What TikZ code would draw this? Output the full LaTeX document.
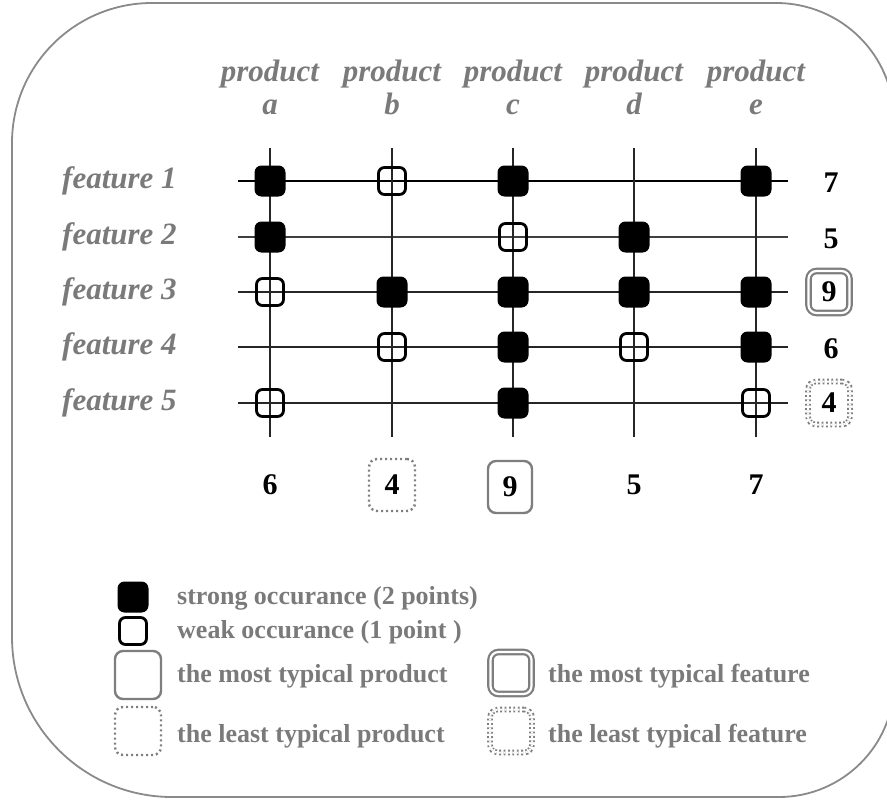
\documentclass[tikz,border=0pt]{standalone}
\usepackage{fontspec}
\setmainfont{Liberation Serif}
\definecolor{labelgray}{HTML}{7A7A7A}
\definecolor{framegray}{HTML}{8A8A8A}
\definecolor{boxgray}{HTML}{7E7E7E}
\begin{document}
\begin{tikzpicture}[x=1pt,y=-1pt,
  lbl/.style={text=labelgray, font=\fontsize{31}{33}\selectfont\bfseries\itshape, inner sep=0pt},
  num/.style={font=\fontsize{30}{32}\selectfont\bfseries, inner sep=0pt},
  legtxt/.style={text=labelgray, font=\fontsize{26}{28}\selectfont\bfseries, anchor=west, inner sep=0pt},
  strongmark/.style={fill=black, rounded corners=7pt, minimum size=31pt, inner sep=0pt},
  weakmark/.style={draw=black, line width=2.8pt, rounded corners=6pt, minimum size=27pt, inner sep=0pt},
  rowline/.style={line width=1.8pt, draw=black!85},
  colline/.style={line width=1.6pt, draw=black!85},
  prodbest/.style={draw=boxgray, line width=2.4pt, rounded corners=8pt, minimum width=44pt, minimum height=52pt, inner sep=0pt},
  prodleast/.style={draw=boxgray, line width=2.4pt, dash pattern=on 2pt off 3pt, rounded corners=8pt, minimum width=46pt, minimum height=52pt, inner sep=0pt},
  featbest/.style={draw=boxgray, line width=2.2pt, double=white, double distance=2.2pt, rounded corners=8pt, minimum width=41pt, minimum height=42pt, inner sep=0pt},
  featleast/.style={draw=boxgray, line width=1.8pt, double=white, double distance=2pt, dash pattern=on 1.8pt off 2.6pt, rounded corners=8pt, minimum width=42pt, minimum height=43pt, inner sep=0pt},
]
\useasboundingbox (0,0) rectangle (887,800);

% outer frame, corners of unequal radius
\draw[framegray, line width=1.8pt]
  (152,3) -- (776,3)
  .. controls (841,3) and (894,55) .. (894,120)
  -- (894,683)
  .. controls (894,746) and (842,797) .. (779,797)
  -- (172,797)
  .. controls (83.6,797) and (12,725.4) .. (12,637)
  -- (12,143)
  .. controls (12,65.7) and (74.7,3) .. (152,3) -- cycle;

% grid end points
\foreach \r/\y in {1/181,2/237,3/292,4/347,5/403}{
  \coordinate (rl\r) at (238,\y);
  \coordinate (rr\r) at (788,\y);
}
\foreach \c/\x in {a/270,b/392,c/513,d/634,e/756}{
  \coordinate (ct\c) at (\x,148);
  \coordinate (cb\c) at (\x,437);
}

% grid lines
\draw[rowline, line width=2.6pt, draw=black] (rl1) -- (rr1);
\draw[rowline, line width=1.5pt, draw=black!75] (rl2) -- (rr2);
\foreach \r in {3,4,5}{ \draw[rowline] (rl\r) -- (rr\r); }
\foreach \c in {a,b,c,d,e}{ \draw[colline] (ct\c) -- (cb\c); }

% product headings
\node[lbl, align=center] (pa) at (270,87) {product\\a};
\node[lbl, align=center] (pb) at (392,87) {product\\b};
\node[lbl, align=center] (pc) at (513,87) {product\\c};
\node[lbl, align=center] (pd) at (634,87) {product\\d};
\node[lbl, align=center] (pe) at (756,87) {product\\e};

% feature headings
\node[lbl, anchor=west] (f1) at (62,181) {feature 1};
\node[lbl, anchor=west] (f2) at (62,237) {feature 2};
\node[lbl, anchor=west] (f3) at (62,292) {feature 3};
\node[lbl, anchor=west] (f4) at (62,347) {feature 4};
\node[lbl, anchor=west] (f5) at (62,403) {feature 5};

% occurrence points
\foreach \c/\x in {a/270,b/392,c/513,d/634,e/756}{
  \foreach \r/\y in {1/181,2/237,3/292,4/347,5/403}{
    \coordinate (m\c\r) at (\x,\y);
  }
}
% strong occurrences
\foreach \m in {a1,c1,e1,a2,d2,b3,c3,d3,e3,c4,e4,c5}{
  \node[strongmark] (s\m) at (m\m) {};
}
% weak occurrences
\foreach \m in {b1,c2,a3,b4,d4,a5,e5}{
  \node[weakmark] (w\m) at (m\m) {};
}

% feature totals
\node[num] (t1) at (831,183) {7};
\node[num] (t2) at (831,239) {5};
\node[num, featbest] (t3) at (829,292) {9};
\node[num] (t4) at (831,349) {6};
\node[num, featleast] (t5) at (829,403) {4};

% product totals
\node[num] (ua) at (270,485) {6};
\node[num, prodleast] (ub) at (392,485) {4};
\node[num, prodbest] (uc) at (510,487) {9};
\node[num] (ud) at (634,485) {5};
\node[num] (ue) at (756,485) {7};

% legend
\node[strongmark] (lgs) at (133,597) {};
\node[weakmark] (lgw) at (133,631) {};
\node[legtxt] (lgst) at (177,598) {strong occurance (2 points)};
\node[legtxt] (lgwt) at (177,632) {weak occurance (1 point )};

\node[prodbest, minimum width=46pt, minimum height=48pt] (lpb) at (138,675) {};
\node[prodleast, minimum width=46pt, minimum height=48pt] (lpl) at (138,731) {};
\node[legtxt] (lpbt) at (177,676) {the most typical product};
\node[legtxt] (lplt) at (177,736) {the least typical product};

\node[featbest] (lfb) at (511,673) {};
\node[featleast] (lfl) at (511,731) {};
\node[legtxt] (lfbt) at (548,676) {the most typical feature};
\node[legtxt] (lflt) at (548,736) {the least typical feature};
\end{tikzpicture}
\end{document}
